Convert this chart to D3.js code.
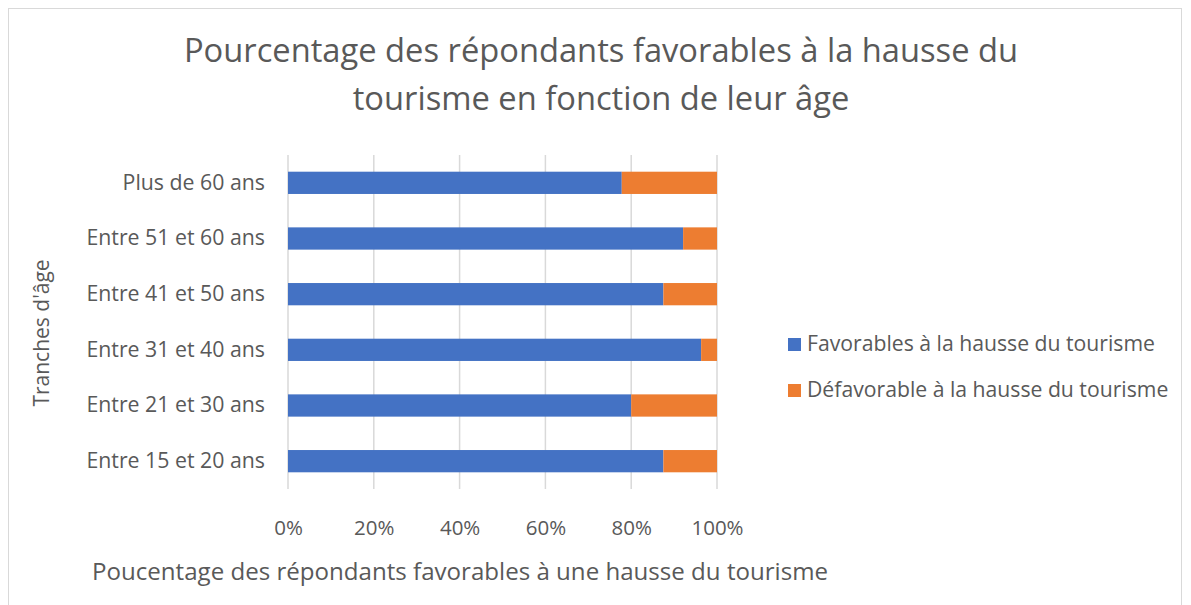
<!DOCTYPE html>
<html>
<head>
<meta charset="utf-8">
<script src="https://cdn.jsdelivr.net/npm/d3@7"></script>
<style>
  body { margin: 0; background: #fff; }
  text { font-family: "Segoe UI", "Open Sans", "Noto Sans", sans-serif; fill: #595959; }
</style>
</head>
<body>
<div id="chart"></div>
<script>
// data
var categories = ["Entre 15 et 20 ans", "Entre 21 et 30 ans", "Entre 31 et 40 ans",
                  "Entre 41 et 50 ans", "Entre 51 et 60 ans", "Plus de 60 ans"];
var favorables = [87.5, 80, 96.3, 87.5, 92.1, 77.8];
var defavorables = [12.5, 20, 3.7, 12.5, 7.9, 22.2];
var seriesNames = ["Favorables à la hausse du tourisme", "Défavorable à la hausse du tourisme"];
var ticks = [0, 20, 40, 60, 80, 100];

var W = 1191, H = 605;
var margin = {top: 155, left: 288, right: 474, bottom: 116};
var width = W - margin.left - margin.right,
    height = H - margin.top - margin.bottom;

var svg = d3.select("#chart").append("svg")
    .attr("width", W)
    .attr("height", H);

// chart border
svg.append("rect")
    .attr("x", 8.5).attr("y", 8.5)
    .attr("width", 1173).attr("height", 610)
    .attr("fill", "none")
    .attr("stroke", "#d9d9d9");

// title
var title = svg.append("text")
    .attr("text-anchor", "middle")
    .style("font-size", "32.7px");
title.append("tspan").attr("x", 601).attr("y", 62).text("Pourcentage des répondants favorables à la hausse du");
title.append("tspan").attr("x", 601).attr("y", 110).text("tourisme en fonction de leur âge");

var g = svg.append("g")
    .attr("transform", "translate(" + margin.left + "," + margin.top + ")");

var x = d3.scaleLinear().domain([0, 100]).range([0, width]);
var y = d3.scaleBand()
    .domain(categories.slice().reverse())
    .range([0, height])
    .paddingInner(0.6)
    .paddingOuter(0.3);

// gridlines
g.selectAll(".grid")
    .data(ticks)
    .enter().append("line")
    .attr("class", "grid")
    .attr("x1", function(d) { return x(d); })
    .attr("x2", function(d) { return x(d); })
    .attr("y1", 0)
    .attr("y2", height)
    .attr("stroke", "#d9d9d9")
    .attr("stroke-width", 1.5);

// stacked bars
var rows = categories.map(function(c, i) {
    return {cat: c, fav: favorables[i], def: defavorables[i]};
});

g.selectAll(".fav")
    .data(rows)
    .enter().append("rect")
    .attr("class", "fav")
    .attr("x", x(0))
    .attr("y", function(d) { return y(d.cat); })
    .attr("width", function(d) { return x(d.fav) - x(0); })
    .attr("height", y.bandwidth())
    .attr("fill", "#4472c4");

g.selectAll(".def")
    .data(rows)
    .enter().append("rect")
    .attr("class", "def")
    .attr("x", function(d) { return x(d.fav); })
    .attr("y", function(d) { return y(d.cat); })
    .attr("width", function(d) { return x(d.fav + d.def) - x(d.fav); })
    .attr("height", y.bandwidth())
    .attr("fill", "#ed7d31");

// x axis
var xAxis = g.append("g")
    .attr("transform", "translate(0," + height + ")")
    .call(d3.axisBottom(x).tickValues(ticks).tickSize(0).tickPadding(31)
        .tickFormat(function(d) { return d + "%"; }));
xAxis.select(".domain").remove();
xAxis.selectAll("text").style("font-size", "20.5px").attr("fill", "#595959");

// y axis
var yAxis = g.append("g")
    .call(d3.axisLeft(y).tickSize(0).tickPadding(23));
yAxis.select(".domain").remove();
yAxis.selectAll("text").style("font-size", "21.3px").attr("fill", "#595959");

// axis titles
svg.append("text")
    .attr("x", 92).attr("y", 580)
    .style("font-size", "24.1px")
    .text("Poucentage des répondants favorables à une hausse du tourisme");

svg.append("text")
    .attr("transform", "translate(49,333) rotate(-90)")
    .attr("text-anchor", "middle")
    .style("font-size", "21px")
    .text("Tranches d'âge");

// legend
var legend = svg.selectAll(".legend")
    .data(seriesNames)
    .enter().append("g")
    .attr("class", "legend")
    .attr("transform", function(d, i) { return "translate(788," + (344 + i * 46) + ")"; });
legend.append("rect")
    .attr("x", 0).attr("y", -6)
    .attr("width", 13).attr("height", 13)
    .attr("fill", function(d, i) { return i === 0 ? "#4472c4" : "#ed7d31"; });
legend.append("text")
    .attr("x", 19).attr("y", 0)
    .attr("dy", "0.35em")
    .style("font-size", "21.2px")
    .text(function(d) { return d; });
</script>
</body>
</html>
